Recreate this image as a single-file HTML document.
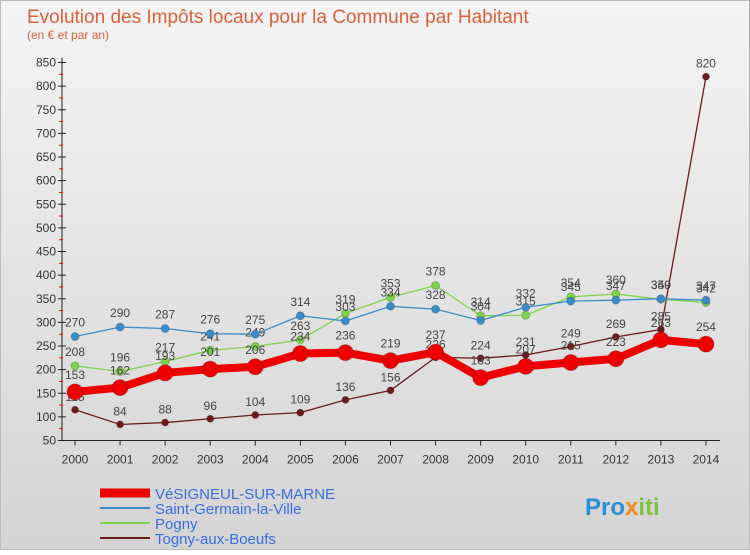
<!DOCTYPE html>
<html><head><meta charset="utf-8"><style>
body{margin:0;width:750px;height:550px;overflow:hidden;font-family:"Liberation Sans",sans-serif}
</style></head><body>
<svg width="750" height="550" xmlns="http://www.w3.org/2000/svg" id="svg">
<defs><linearGradient id="bg" x1="0" y1="0" x2="0" y2="1"><stop offset="0" stop-color="#f4f4f4"/><stop offset="1" stop-color="#d4d4d4"/></linearGradient></defs>
<rect x="0.5" y="0.5" width="749" height="549" fill="url(#bg)" stroke="#bbb"/>
<text x="27" y="23" font-size="19" fill="#d9603b">Evolution des Impôts locaux pour la Commune par Habitant</text>
<text x="27" y="39" font-size="12" fill="#d9603b">(en € et par an)</text>
<g id="axes"></g><g id="series"></g><g id="legend"></g>
<text x="585" y="515" font-size="24" font-weight="bold" fill="#2a8fd6">Pro<tspan fill="#f08a1c">x</tspan><tspan fill="#7dc242">iti</tspan></text>
</svg>
<script>
const years=[2000,2001,2002,2003,2004,2005,2006,2007,2008,2009,2010,2011,2012,2013,2014];
const yTicks=[50,100,150,200,250,300,350,400,450,500,550,600,650,700,750,800,850];
const redVals=[153,162,193,201,206,234,236,219,237,183,207,215,223,263,254];
const blueVals=[270,290,287,276,275,314,303,334,328,304,332,345,347,350,347];
const greenVals=[208,196,217,241,249,263,319,353,378,314,315,354,360,349,342];
const brownVals=[115,84,88,96,104,109,136,156,226,224,231,249,269,285,820];
const names=["VéSIGNEUL-SUR-MARNE","Saint-Germain-la-Ville","Pogny","Togny-aux-Boeufs"];
const NS="http://www.w3.org/2000/svg";
const X=i=>75+i*45.07, Y=v=>440.5-(v-50)*0.4725;
function mk(p,t,a,txt){const e=document.createElementNS(NS,t);for(const k in a)e.setAttribute(k,a[k]);if(txt!==undefined)e.textContent=txt;p.appendChild(e);return e;}
const ax=document.getElementById('axes');
const yl=mk(ax,'line',{x1:62,y1:Y(850)-5,x2:62,y2:Y(50),stroke:'#222'});

const xl=mk(ax,'line',{x1:62,y1:Y(50),x2:720,y2:Y(50),stroke:'#222'});

yTicks.forEach(v=>{
 mk(ax,'line',{x1:58,y1:Y(v),x2:66,y2:Y(v),stroke:'#222'});
 if(v<850)mk(ax,'line',{x1:59,y1:Y(v+25),x2:63,y2:Y(v+25),stroke:'#e00'});
 const t=mk(ax,'text',{x:56,y:Y(v)+4,'font-size':12,'text-anchor':'end',fill:'#333'},v);
 
});
years.forEach((y,i)=>{
 mk(ax,'line',{x1:X(i),y1:Y(50),x2:X(i),y2:Y(50)+5,stroke:'#222'});
 const t=mk(ax,'text',{x:X(i),y:Y(50)+23,'font-size':12,'text-anchor':'middle',fill:'#333'},y);
 
});
const sg=document.getElementById('series');
function series(vals,color,w,r,nm,labDy){
 const g=mk(sg,'g',{});
 
 mk(g,'polyline',{points:vals.map((v,i)=>X(i)+','+Y(v)).join(' '),fill:'none',stroke:color,'stroke-width':w,'stroke-linejoin':'round'});
 vals.forEach((v,i)=>{
  const c=mk(g,'circle',{cx:X(i),cy:Y(v),r:r,fill:color,stroke:'#0003','stroke-width':1});
  
  const t=mk(g,'text',{x:X(i),y:Y(v)-labDy,'font-size':12,'text-anchor':'middle',fill:'#444'},v);
  
 });
}
series(brownVals,'#6b1a1a',1.3,3.5,'series-togny',9);
series(greenVals,'#7ed348',1.3,4,'series-pogny',10);
series(blueVals,'#3a8cc8',1.3,4,'series-saint-germain',10);
series(redVals,'#ee0000',8,8,'series-vesigneul',13);
const lg=document.getElementById('legend');
const cols=['#ee0000','#3a8cc8','#7ed348','#6b1a1a'],ws=[9,2,2,2];
names.forEach((n,i)=>{
 const y=493+i*15;
 const g=mk(lg,'g',{});
 
 mk(g,'line',{x1:100,y1:y,x2:150,y2:y,stroke:cols[i],'stroke-width':ws[i]});
 mk(g,'text',{x:155,y:y+6,'font-size':15,fill:'#3a6ee0'},n);
});
</script>
</body></html>
